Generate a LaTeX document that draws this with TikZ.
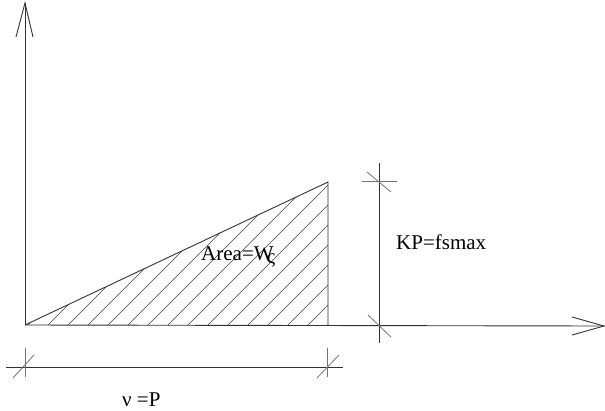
\documentclass[tikz,border=0pt]{standalone}
\usepackage{fontspec}
\setmainfont{Liberation Serif}
\tikzset{
  axis/.style={line width=0.9pt, draw=black!80},
  tick/.style={line width=0.8pt, draw=black!55},
  hatch/.style={line width=0.6pt, draw=black!75},
  lbl/.style={font=\fontsize{21}{25}\selectfont, inner sep=0pt, anchor=base west}
}
\begin{document}
\begin{tikzpicture}[x=1pt, y=-1pt]
\useasboundingbox (0,0) rectangle (605,410);
% key points
\coordinate (O) at (25,325);
\coordinate (Ytip) at (25,3);
\coordinate (Xtip) at (604,326);
\coordinate (T) at (328,182);
\coordinate (B) at (328,325);
% axes
\draw[axis] (O) -- (Ytip);
\draw[axis] (16,37) -- (Ytip) -- (33,37);
\draw[axis] (O) -- (Xtip);
\draw[axis] (572,317) -- (Xtip) -- (572,335);
% triangle and hatching
\begin{scope}
  \clip (O) -- (T) -- (B) -- cycle;
  \foreach \x in {8,28,...,328} {
    \draw[hatch] (\x,325) -- ++(170,-170);
  }
\end{scope}
\draw[axis] (O) -- (T) -- (B);
% right dimension
\coordinate (Rt) at (379,163);
\coordinate (Rb) at (379,343);
\draw[axis] (Rt) -- (Rb);
\draw[tick] (362,181) -- (397,181);
\draw[tick] (367,172) -- (391,192);
\draw[tick] (368,315) -- (391,337);
% bottom dimension
\coordinate (Bl) at (6,367);
\coordinate (Br) at (343,367);
\draw[axis] (Bl) -- (Br);
\draw[tick] (25,348) -- (25,377);
\draw[tick] (13,378) -- (34,355);
\draw[tick] (327,348) -- (327,377);
\draw[tick] (317,378) -- (339,355);
% labels
\node[lbl] (area) at (201,260) {Area=W\kern-0.32em\raisebox{-0.18em}{ς}};
\node[lbl] (kp) at (396,249) {KP=fsmax};
\node[lbl] (nu) at (122,406) {ν =P};
\end{tikzpicture}
\end{document}
